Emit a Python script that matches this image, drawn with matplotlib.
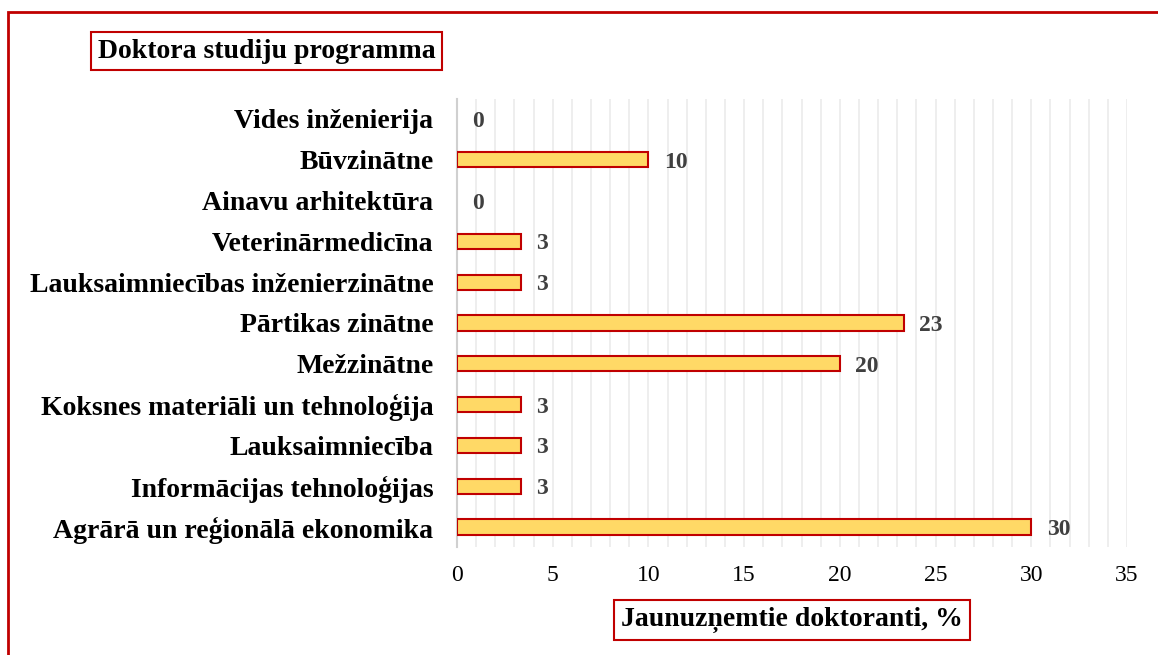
import matplotlib
matplotlib.use("Agg")
import matplotlib.pyplot as plt
from matplotlib.patches import Rectangle

categories = [
    "Vides inženierija",
    "Būvzinātne",
    "Ainavu arhitektūra",
    "Veterinārmedicīna",
    "Lauksaimniecības inženierzinātne",
    "Pārtikas zinātne",
    "Mežzinātne",
    "Koksnes materiāli un tehnoloģija",
    "Lauksaimniecība",
    "Informācijas tehnoloģijas",
    "Agrārā un reģionālā ekonomika",
]
values = [0, 10, 0, 3.33, 3.33, 23.33, 20, 3.33, 3.33, 3.33, 30]
x_ticks = [0, 5, 10, 15, 20, 25, 30, 35]
title_text = "Doktora studiju programma"
xlabel_text = "Jaunuzņemtie doktoranti, %"

RED = "#C00000"
FILL = "#FFD966"
FONT = "Liberation Serif"

fig = plt.figure(figsize=(11.58, 6.55), dpi=100)
ax = fig.add_axes([457 / 1158, 1 - 547.4 / 655, 670 / 1158, 448.8 / 655])

ypos = list(range(len(categories)))[::-1]
bars = ax.barh(ypos, values, height=0.37, color=FILL, edgecolor=RED, linewidth=1.5, zorder=3)
for b, v in zip(bars, values):
    if v == 0:
        b.set_visible(False)

for y, v in zip(ypos, values):
    ax.annotate(f"{v:.0f}", xy=(v, y), xytext=(11, 0), textcoords="offset points",
                ha="left", va="center_baseline", fontsize=17, fontweight="bold",
                color="#404040", family=FONT, zorder=4)

ax.set_xlim(0, 35)
ax.set_ylim(-0.5, len(categories) - 0.5)
ax.set_xticks(x_ticks)
ax.set_xticklabels([str(t) for t in x_ticks], family=FONT, fontsize=17)
ax.set_xticks(range(0, 36), minor=True)
ax.set_yticks(ypos)
ax.set_yticklabels(categories, family=FONT, fontsize=20, fontweight="bold")
ax.tick_params(axis="both", which="both", length=0)
ax.tick_params(axis="x", pad=13)
ax.tick_params(axis="y", pad=17)
ax.grid(axis="x", which="both", color="#EBEBEB", linewidth=1.2, zorder=0)
for s in ["top", "right", "bottom"]:
    ax.spines[s].set_visible(False)
ax.spines["left"].set_color("#D0D0D0")
ax.spines["left"].set_linewidth(1.5)

# outer border
fig.patches.append(Rectangle((8 / 1158, -0.1), 1.2, 1 - 12 / 655 + 0.1,
                             transform=fig.transFigure, fill=False,
                             edgecolor=RED, linewidth=2, zorder=10))

fig.text(266.5 / 1158, 1 - 51 / 655, title_text, family=FONT, fontsize=20,
         fontweight="bold", ha="center", va="center",
         bbox=dict(boxstyle="square,pad=0.25", facecolor="white", edgecolor=RED, linewidth=1.5))
fig.text(792 / 1158, 1 - 620 / 655, xlabel_text, family=FONT, fontsize=20,
         fontweight="bold", ha="center", va="center",
         bbox=dict(boxstyle="square,pad=0.25", facecolor="white", edgecolor=RED, linewidth=1.5))

fig.savefig("out.png", dpi=100)
